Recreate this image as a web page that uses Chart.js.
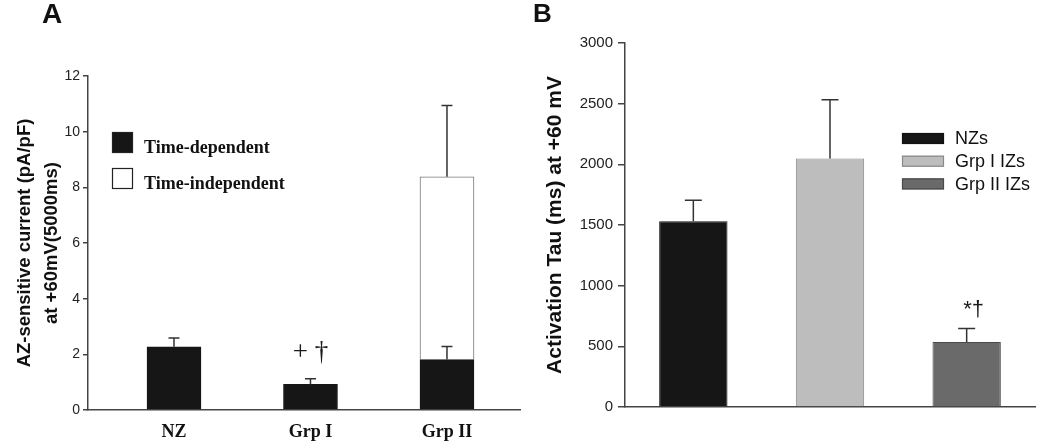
<!DOCTYPE html>
<html>
<head>
<meta charset="utf-8">
<script src="https://cdn.jsdelivr.net/npm/chart.js@4.4.1/dist/chart.umd.min.js"></script>
<style>
  body { margin: 0; background: #fff; }
  #wrap { position: relative; width: 1050px; height: 448px; overflow: hidden; }
  canvas { position: absolute; top: 0; }
  #cA { left: 0; }
  #cB { left: 525px; }
  .panel { position: absolute; top: 0; font-family: 'Liberation Sans', Arial, sans-serif; font-weight: bold; color: #111; }
</style>
</head>
<body>
<div id="wrap">
  <canvas id="cA" width="525" height="448"></canvas>
  <canvas id="cB" width="525" height="448"></canvas>
  <div class="panel" style="left:42px;font-size:28px;line-height:28px">A</div>
  <div class="panel" style="left:533px;font-size:26px;line-height:26px">B</div>
</div>
<script>
// panel A: AZ-sensitive current
const groupsA = [ 'NZ', 'Grp I', 'Grp II' ];
const timeDep = [ 2.27, 0.92, 1.81 ];
const timeDepErr = [ 0.32, 0.20, 0.47 ];
const timeIndep = [ null, null, 6.57 ];
const timeIndepErr = [ null, null, 2.56 ];
const marksA = [ '', '+ \u2020', '' ];
const ticksA = [ 0, 2, 4, 6, 8, 10, 12 ];

// panel B: activation tau
const groupsB = [ 'NZs', 'Grp I IZs', 'Grp II IZs' ];
const tauB = [ 1530, 2049, 536 ];
const tauErrB = [ 173, 484, 112 ];
const marksB = [ '', '', '*\u2020' ];
const ticksB = [ 0, 500, 1000, 1500, 2000, 2500, 3000 ];

const SANS = "'Liberation Sans', Arial, sans-serif";
const SERIF = "'Liberation Serif', 'Times New Roman', serif";

function val( d )
{
    if ( d != null && typeof d === 'object' )
        return d.y;
    return d;
}

// upward-only error whiskers with a cap
const errorBars = {
    id : 'errorBars',
    afterDatasetsDraw( chart, args, o )
    {
        const ctx = chart.ctx;
        const y = chart.scales.y;
        chart.data.datasets.forEach(( ds, di ) => {
            if ( !ds.errors )
                return;
            const meta = chart.getDatasetMeta( di );
            meta.data.forEach(( bar, i ) => {
                const e = ds.errors[ i ];
                if ( e == null || val( ds.data[ i ]) == null )
                    return;
                const yTop = y.getPixelForValue( y.getValueForPixel( bar.y ) + e );
                ctx.save();
                ctx.strokeStyle = o.color || '#333';
                ctx.lineWidth = 1.5;
                ctx.beginPath();
                ctx.moveTo( bar.x, bar.y );
                ctx.lineTo( bar.x, yTop );
                ctx.moveTo( bar.x - o.cap, yTop );
                ctx.lineTo( bar.x + o.cap, yTop );
                ctx.stroke();
                ctx.restore();
            });
        });
    }
};

// significance marks above the highest whisker of a group
const sigMarks = {
    id : 'sigMarks',
    afterDatasetsDraw( chart, args, o )
    {
        if ( !o.texts )
            return;
        const ctx = chart.ctx;
        const y = chart.scales.y;
        o.texts.forEach(( t, i ) => {
            if ( !t )
                return;
            let top = Infinity;
            let cx = null;
            chart.data.datasets.forEach(( ds, di ) => {
                const bar = chart.getDatasetMeta( di ).data[ i ];
                if ( !bar || val( ds.data[ i ]) == null )
                    return;
                const e = ds.errors ? ( ds.errors[ i ] || 0 ) : 0;
                const py = y.getPixelForValue( y.getValueForPixel( bar.y ) + e );
                if ( py < top ) { top = py; cx = bar.x; }
            });
            if ( cx == null )
                return;
            ctx.save();
            ctx.font = o.font;
            ctx.fillStyle = '#1a1a1a';
            ctx.textAlign = 'center';
            ctx.textBaseline = 'middle';
            ctx.fillText( t, cx + o.dx, top - o.dy );
            ctx.restore();
        });
    }
};

// legend boxes drawn from the datasets
const boxLegend = {
    id : 'boxLegend',
    afterDraw( chart, args, o )
    {
        if ( !o.font )
            return;
        const ctx = chart.ctx;
        chart.data.datasets.forEach(( ds, i ) => {
            const by = o.y + i * o.rowH;
            ctx.save();
            ctx.fillStyle = ds.backgroundColor;
            ctx.fillRect( o.x, by, o.boxW, o.boxH );
            ctx.strokeStyle = o.boxBorder || ds.borderColor;
            ctx.lineWidth = 1.2;
            ctx.strokeRect( o.x + 0.5, by + 0.5, o.boxW - 1, o.boxH - 1 );
            ctx.font = o.font;
            ctx.fillStyle = '#111';
            ctx.textAlign = 'left';
            if ( o.baseline === 'bottom' )
            {
                ctx.textBaseline = 'alphabetic';
                ctx.fillText( ds.label, o.textX, by + o.boxH );
            }
            else
            {
                ctx.textBaseline = 'middle';
                ctx.fillText( ds.label, o.textX, by + o.boxH / 2 + 1 );
            }
            ctx.restore();
        });
    }
};

new Chart( document.getElementById( 'cA' ), {
    type : 'bar',
    data : {
        datasets : [
            {
                label : 'Time-dependent',
                data : groupsA.map(( g, i ) => ({ x : i + 1, y : timeDep[ i ] })),
                errors : timeDepErr,
                backgroundColor : '#161616',
                borderColor : '#161616',
                borderWidth : 1,
                barThickness : 54,
                grouped : false,
            },
            {
                label : 'Time-independent',
                data : groupsA.map(( g, i ) => ({ x : i + 1, y : timeIndep[ i ] })),
                errors : timeIndepErr,
                backgroundColor : '#ffffff',
                borderColor : '#777',
                borderWidth : 1,
                barThickness : 54,
                grouped : false,
            },
        ]
    },
    options : {
        responsive : false,
        animation : false,
        devicePixelRatio : 1,
        layout : { padding : { top : 76, right : 5, bottom : 0, left : 0 } },
        plugins : {
            legend : { display : false },
            tooltip : { enabled : false },
            errorBars : { cap : 5.5, color : '#333' },
            sigMarks : { texts : marksA, font : '27px ' + SERIF, dx : 0, dy : 26 },
            boxLegend : { x : 112, y : 132, boxW : 21, boxH : 21, rowH : 36, textX : 144,
                font : 'bold 18px ' + SERIF, baseline : 'bottom', boxBorder : '#222' },
        },
        scales : {
            x : {
                type : 'linear',
                offset : false,
                min : 0.37,
                max : 3.535,
                afterBuildTicks : s => { s.ticks = groupsA.map(( g, i ) => ({ value : i + 1 })); },
                afterFit : s => { s.height = 38; },
                ticks : {
                    callback : v => groupsA[ v - 1 ],
                    font : { family : SERIF, size : 18, weight : 'bold' },
                    color : '#111',
                    padding : 12,
                    autoSkip : false,
                    maxRotation : 0,
                },
                grid : { display : true, drawOnChartArea : false, drawTicks : false },
                border : { display : true, color : '#444', width : 1.5 },
            },
            y : {
                stacked : true,
                min : ticksA[ 0 ],
                max : ticksA[ ticksA.length - 1 ],
                afterFit : s => { s.width = 88; },
                ticks : {
                    stepSize : ticksA[ 1 ] - ticksA[ 0 ],
                    callback : v => String( v ),
                    font : { family : SANS, size : 14 },
                    color : '#222',
                    padding : 3,
                },
                grid : { drawOnChartArea : false, drawTicks : true, tickLength : 5, color : '#444', lineWidth : 1.5 },
                border : { display : true, color : '#444', width : 1.5 },
                title : {
                    display : true,
                    text : [ 'AZ-sensitive current (pA/pF)', 'at +60mV(5000ms)' ],
                    font : { family : SANS, size : 18.5, weight : 'bold', lineHeight : 1.45 },
                    color : '#111',
                    padding : { top : 11.5, bottom : 0 },
                },
            },
        },
    },
    plugins : [ errorBars, sigMarks, boxLegend ],
});

const coloursB = [ '#161616', '#bdbdbd', '#6a6a6a' ];
const bordersB = [ '#111111', '#8a8a8a', '#4a4a4a' ];

new Chart( document.getElementById( 'cB' ), {
    type : 'bar',
    data : {
        labels : groupsB,
        datasets : groupsB.map(( g, i ) => ({
            label : g,
            data : tauB.map(( v, j ) => j === i ? v : null ),
            errors : tauErrB.map(( v, j ) => j === i ? v : null ),
            backgroundColor : coloursB[ i ],
            borderColor : bordersB[ i ],
            borderWidth : 1,
            grouped : false,
            barPercentage : 0.5,
            categoryPercentage : 1.0,
        })),
    },
    options : {
        responsive : false,
        animation : false,
        devicePixelRatio : 1,
        layout : { padding : { top : 43, right : 15, bottom : 0, left : 0 } },
        plugins : {
            legend : { display : false },
            tooltip : { enabled : false },
            errorBars : { cap : 8.5, color : '#333' },
            sigMarks : { texts : marksB, font : '22px ' + SANS, dx : 7, dy : 18 },
            boxLegend : { x : 377, y : 133, boxW : 42, boxH : 11, rowH : 22.7, textX : 430,
                font : '18px ' + SANS, baseline : 'middle' },
        },
        scales : {
            x : {
                afterFit : s => { s.height = 41; },
                ticks : { display : false },
                grid : { display : true, drawOnChartArea : false, drawTicks : false },
                border : { display : true, color : '#444', width : 1.5 },
            },
            y : {
                min : ticksB[ 0 ],
                max : ticksB[ ticksB.length - 1 ],
                afterFit : s => { s.width = 100; },
                ticks : {
                    stepSize : ticksB[ 1 ] - ticksB[ 0 ],
                    callback : v => String( v ),
                    font : { family : SANS, size : 15 },
                    color : '#222',
                    padding : 5,
                },
                grid : { drawOnChartArea : false, drawTicks : true, tickLength : 7, color : '#444', lineWidth : 1.5 },
                border : { display : true, color : '#444', width : 1.5 },
                title : {
                    display : true,
                    text : 'Activation Tau (ms) at +60 mV',
                    font : { family : SANS, size : 21, weight : 'bold', lineHeight : 1.2 },
                    color : '#111',
                    padding : { top : 18, bottom : 0 },
                },
            },
        },
    },
    plugins : [ errorBars, sigMarks, boxLegend ],
});
</script>
</body>
</html>
